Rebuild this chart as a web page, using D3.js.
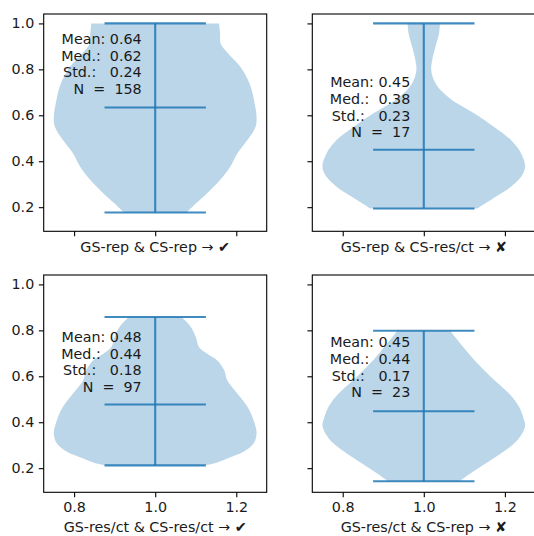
<!DOCTYPE html>
<html>
<head>
<meta charset="utf-8">
<script src="https://cdn.jsdelivr.net/npm/d3@7"></script>
<style>
  html, body { margin: 0; padding: 0; background: #fff; }
  text { font-family: "DejaVu Sans", sans-serif; white-space: pre; }
</style>
</head>
<body>
<svg id="chart" width="534" height="536"></svg>
<script>
// ---------------- data ----------------
const panelLabels = [
  "GS-rep & CS-rep \u2192 \u2714",
  "GS-rep & CS-res/ct \u2192 \u2718",
  "GS-res/ct & CS-res/ct \u2192 \u2714",
  "GS-res/ct & CS-rep \u2192 \u2718"
];
const means   = [0.64, 0.45, 0.48, 0.45];
const medians = [0.62, 0.38, 0.44, 0.44];
const stds    = [0.24, 0.23, 0.18, 0.17];
const counts  = [158, 17, 97, 23];
const mins    = [0.177, 0.194, 0.212, 0.143];
const maxs    = [1.0, 1.0, 0.858, 0.798];
const meanLines = [0.634, 0.45, 0.477, 0.448];

// density profile (value, relative half-width)
const densityY0 = [1.0, 0.956, 0.913, 0.869, 0.811, 0.739, 0.666, 0.594, 0.550, 0.492, 0.434, 0.376, 0.318, 0.260, 0.216, 0.177];
const densityW0 = [0.63, 0.64, 0.645, 0.72, 0.84, 0.93, 0.975, 1.0, 0.99, 0.91, 0.81, 0.74, 0.64, 0.51, 0.40, 0.31];
const densityY1 = [1.0, 0.956, 0.898, 0.840, 0.797, 0.753, 0.710, 0.666, 0.608, 0.550, 0.492, 0.434, 0.376, 0.332, 0.289, 0.245, 0.209, 0.194];
const densityW1 = [0.16, 0.15, 0.115, 0.083, 0.073, 0.10, 0.165, 0.28, 0.50, 0.69, 0.86, 0.96, 1.0, 0.96, 0.86, 0.71, 0.58, 0.53];
const densityY2 = [0.858, 0.816, 0.772, 0.729, 0.699, 0.670, 0.627, 0.583, 0.525, 0.467, 0.409, 0.351, 0.307, 0.271, 0.242, 0.220, 0.212];
const densityW2 = [0.26, 0.35, 0.40, 0.43, 0.51, 0.61, 0.68, 0.71, 0.81, 0.91, 0.97, 1.0, 0.97, 0.87, 0.71, 0.58, 0.48];
const densityY3 = [0.798, 0.743, 0.670, 0.598, 0.525, 0.467, 0.409, 0.387, 0.351, 0.307, 0.264, 0.220, 0.177, 0.143];
const densityW3 = [0.26, 0.36, 0.50, 0.66, 0.84, 0.94, 0.99, 1.0, 0.97, 0.89, 0.76, 0.61, 0.46, 0.35];
const densitiesY = [densityY0, densityY1, densityY2, densityY3];
const densitiesW = [densityW0, densityW1, densityW2, densityW3];

const yTicks = [0.2, 0.4, 0.6, 0.8, 1.0];
const xTicks = [0.8, 1.0, 1.2];

// ---------------- layout ----------------
const axW = 223, axH = 217.3;
const panels = [
  { x: 43.7,  y: 14,  yLabels: true,  xLabels: false, textDy: 30.0 },
  { x: 312.3, y: 14,  yLabels: false, xLabels: false, textDy: 73.2 },
  { x: 43.7,  y: 275, yLabels: true,  xLabels: true,  textDy: 67.0 },
  { x: 312.3, y: 275, yLabels: false, xLabels: true,  textDy: 72.2 }
];
const fontPx = 14.3, tickLen = 4.86, tickPad = 4.6;
const C0 = "#1f77b4";

const svg = d3.select("#chart");
const x = d3.scaleLinear().domain([0.725, 1.275]).range([0, axW]);
const y = d3.scaleLinear().domain([0.095, 1.041]).range([axH, 0]);

panels.forEach((p, i) => {
  const g = svg.append("g").attr("transform", `translate(${p.x},${p.y})`);

  // violin body
  const pts = densitiesY[i].map((v, k) => ({ v, w: densitiesW[i][k] }));
  const area = d3.area()
    .y(d => y(d.v))
    .x0(d => x(1 - 0.25 * d.w))
    .x1(d => x(1 + 0.25 * d.w))
    .curve(d3.curveCatmullRom.alpha(0.5));
  g.append("path").datum(pts).attr("d", area)
    .attr("fill", C0).attr("fill-opacity", 0.3).attr("stroke", "none");

  // extrema / mean bars
  const lineG = g.append("g").attr("stroke", C0).attr("stroke-width", 2.1).attr("stroke-opacity", 0.85);
  lineG.append("line").attr("x1", x(1)).attr("x2", x(1)).attr("y1", y(mins[i])).attr("y2", y(maxs[i]));
  [mins[i], maxs[i], meanLines[i]].forEach(v => {
    lineG.append("line").attr("x1", x(0.875)).attr("x2", x(1.125)).attr("y1", y(v)).attr("y2", y(v));
  });

  // stats text
  const lines = [
    `Mean: ${means[i].toFixed(2)}`,
    `Med.:  ${medians[i].toFixed(2)}`,
    `Std.:   ${stds[i].toFixed(2)}`,
    `N  =  ${counts[i]}`
  ];
  lines.forEach((t, k) => {
    g.append("text").attr("x", 98).attr("y", p.textDy + k * 16.7)
      .attr("text-anchor", "end").attr("font-size", fontPx).attr("fill", "#1a1a1a")
      .attr("xml:space", "preserve").text(t);
  });

  // axes
  const yAxis = d3.axisLeft(y).tickValues(yTicks).tickSize(tickLen).tickPadding(tickPad)
    .tickFormat(p.yLabels ? d3.format(".1f") : () => "");
  const xAxis = d3.axisBottom(x).tickValues(xTicks).tickSize(tickLen).tickPadding(tickPad)
    .tickFormat(p.xLabels ? d3.format(".1f") : () => "");
  const ya = g.append("g").call(yAxis);
  const xa = g.append("g").attr("transform", `translate(0,${axH})`).call(xAxis);
  [ya, xa].forEach(a => {
    a.select(".domain").remove();
    a.selectAll(".tick line").attr("stroke", "#000").attr("stroke-width", 1.1);
    a.selectAll(".tick text").attr("font-size", fontPx).attr("fill", "#1a1a1a")
      .attr("font-family", "DejaVu Sans");
  });

  // frame
  g.append("rect").attr("x", 0).attr("y", 0).attr("width", axW).attr("height", axH)
    .attr("fill", "none").attr("stroke", "#000").attr("stroke-width", 1.1);

  // x label
  g.append("text").attr("x", x(1)).attr("y", p.xLabels ? 256.5 : 238)
    .attr("text-anchor", "middle").attr("font-size", fontPx).attr("fill", "#1a1a1a")
    .text(panelLabels[i]);
});
</script>
</body>
</html>
